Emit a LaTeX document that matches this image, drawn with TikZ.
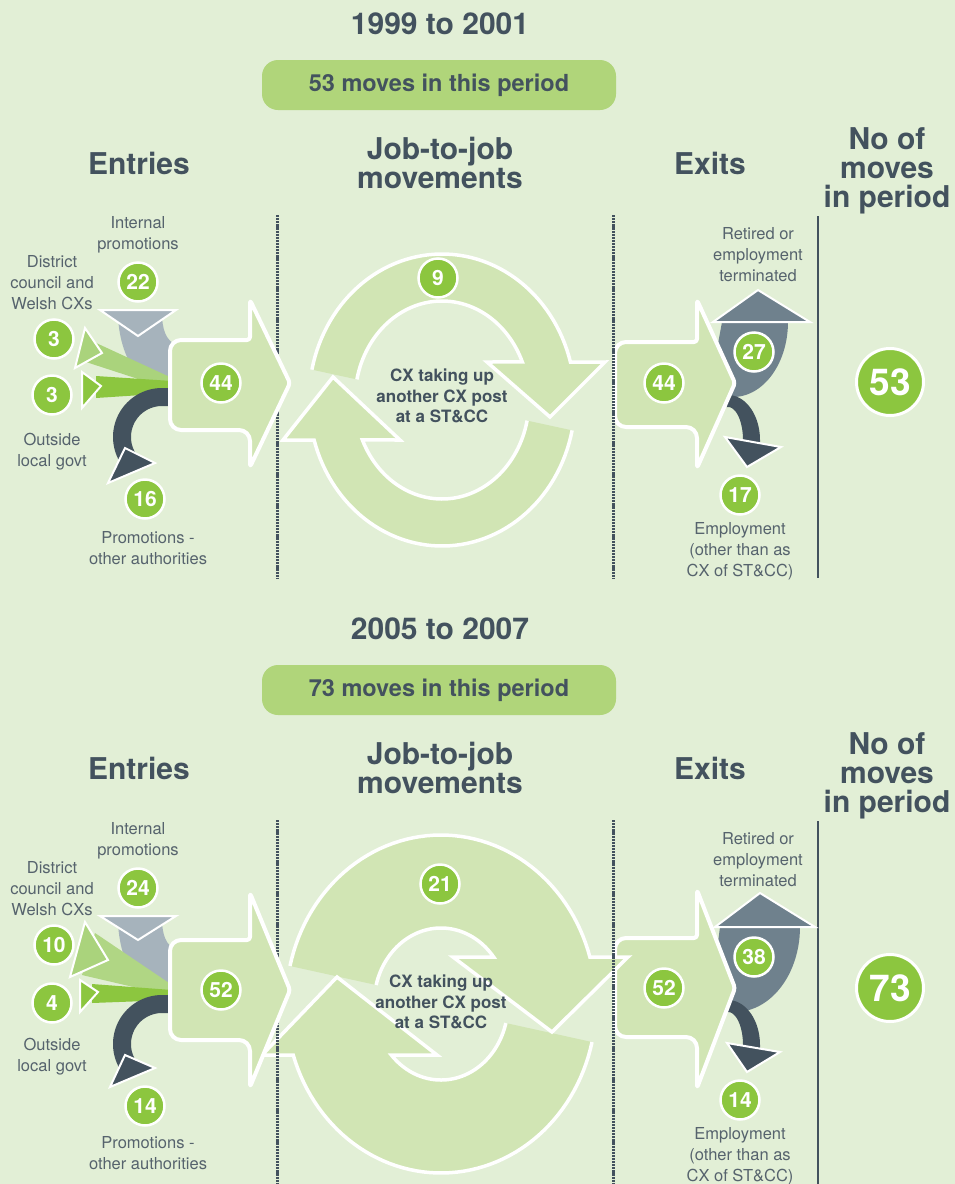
\documentclass[tikz,border=0pt]{standalone}
\usepackage{fontspec}
\setmainfont{TeX Gyre Heros}
\definecolor{bgc}{HTML}{E2EFD6}
\definecolor{lgreen}{HTML}{D1E5B4}
\definecolor{pillgreen}{HTML}{B0D57A}
\definecolor{cgreen}{HTML}{8CC63F}
\definecolor{slate}{HTML}{43525E}
\definecolor{lblgrey}{HTML}{56636D}
\definecolor{greyin}{HTML}{A6B3BC}
\definecolor{greyout}{HTML}{6F818D}
\definecolor{midgreen}{HTML}{AAD37C}
\definecolor{darkgreen}{HTML}{8CC63F}
\newcommand\ringTL{plot[domain=12:164.1,samples=60] ({442+133*cos(\x)},{400+146*sin(\x)}) -- (283,440) -- (333,377) -- (400,440) -- plot[domain=156.2:12,samples=60] ({442+87*cos(\x)},{400+99*sin(\x)})}
\newcommand\ringTU{plot[domain=192:345,samples=60] ({442+133*cos(\x)},{400+146*sin(\x)}) -- (605,362) -- (550,417) -- (487,362) -- plot[domain=337.4:192,samples=60] ({442+87*cos(\x)},{400+99*sin(\x)})}
\newcommand\ringBL{plot[domain=13:162.4,samples=60] ({441+155*cos(\x)},{1004+169*sin(\x)}) -- (262,1055) -- (337,977) -- (437,1055) -- plot[domain=137.8:14.5,samples=60] ({441+67*cos(\x)},{1004+76*sin(\x)})}
\newcommand\ringBU{plot[domain=193:343.9,samples=60] ({441+155*cos(\x)},{1004+169*sin(\x)}) -- (628,957) -- (552,1032) -- (453,957) -- plot[domain=321.8:194.5,samples=60] ({441+67*cos(\x)},{1004+76*sin(\x)})}
\begin{document}
\begin{tikzpicture}[x=1pt,y=-1pt,
 num/.style={circle, fill=cgreen, draw=white, line width=2.5pt, text=white, font=\bfseries\fontsize{21}{21}\selectfont, minimum size=39pt, inner sep=0pt},
 bignum/.style={num, minimum size=67pt, line width=3pt, font=\bfseries\fontsize{37}{37}\selectfont},
 lbl/.style={align=center, text=lblgrey, font=\fontsize{16.5}{21}\selectfont, inner sep=0pt},
 hdr/.style={align=center, text=slate, font=\bfseries\fontsize{30}{29}\selectfont, inner sep=0pt},
 pill/.style={fill=pillgreen, rounded corners=16pt, minimum width=354pt, minimum height=50pt, text=slate, font=\bfseries\fontsize{23.5}{23.5}\selectfont},
 cxt/.style={align=center, text=slate, font=\bfseries\fontsize{17}{20.5}\selectfont, inner sep=0pt},
 bigarrow/.style={fill=lgreen, draw=white, line width=4pt, line join=round},
 ringedge/.style={draw=white, line width=3.5pt, line join=miter},
 tri/.style={draw=white, line width=2pt, line join=miter},
 dotline/.style={draw=slate, line width=3pt, dash pattern=on 2.2pt off 0.9pt},
 solidline/.style={draw=slate, line width=2pt}
]
\fill[bgc] (0,0) rectangle (955,1184);
\useasboundingbox (0,0) rectangle (955,1184);

% ================= TOP PANEL =================
\node[hdr] (t1) at (440,24) {1999 to 2001};
\node[pill] (p1) at (439,85) {53 moves in this period};
\node[hdr, anchor=north] (j1) at (440,137) {Job-to-job\\movements};
\node[hdr, anchor=north] (e1) at (139,152) {Entries};
\node[hdr, anchor=north] (x1) at (710,152) {Exits};
\node[hdr, anchor=north] (n1) at (887,127) {No of\\moves\\in period};
\draw[solidline] (818,216) -- (818,578);

% exits
\fill[greyout] (722,322) -- plot[domain=0:100,samples=30] ({733+55*cos(\x)},{322+75*sin(\x)}) -- (715,360) -- cycle;
\draw[tri, fill=greyout] (713,322) -- (810,322) -- (758,290) -- cycle;
\fill[slate] plot[domain=265:360,samples=30] ({728+32*cos(\x)},{440+45*sin(\x)}) -- (760,444) -- (743,444) -- plot[domain=360:265,samples=30] ({728+15*cos(\x)},{440+33*sin(\x)}) -- cycle;
\draw[tri, fill=slate] (725,437) -- (781,447) -- (747,467) -- cycle;
\draw[bigarrow] (697,342) [rounded corners=11pt] -- (615,342) -- (615,427) -- (697,427) [rounded corners=3pt] -- (697,468) -- (735,383) -- (697,300) -- cycle;

% ring
\fill[lgreen] \ringTL -- cycle;
\fill[lgreen] \ringTU -- cycle;
\draw[ringedge] \ringTL;
\draw[ringedge] \ringTU;
\node[cxt] (c1) at (442,396) {CX taking up\\another CX post\\at a ST\&CC};

\draw[dotline] (277,215) -- (277,578);
\draw[dotline] (613,215) -- (613,578);

% entries
\fill[greyin] (118,312) -- plot[domain=180:90,samples=30] ({170+52*cos(\x)},{312+80*sin(\x)}) -- (176,392) -- (176,345) .. controls (166,340) and (162,330) .. (162,312) -- cycle;
\draw[tri, fill=greyin] (100,310) -- (176,310) -- (138,336) -- cycle;
\fill[midgreen] (94,342) -- (172,378) -- (172,390) -- (86,362) -- cycle;
\draw[tri, fill=midgreen] (85,328) -- (102,353) -- (75,368) -- cycle;
\fill[darkgreen] (96,376) -- (172,381) -- (172,393) -- (96,398) -- cycle;
\draw[tri, fill=darkgreen] (82,372) -- (101,386) -- (82,408) -- cycle;
\fill[slate] (176,388) -- plot[domain=272:148,samples=40] ({162+49*cos(\x)},{437+49*sin(\x)}) -- plot[domain=148:272,samples=40] ({162+31*cos(\x)},{437+31*sin(\x)}) -- (176,406) -- cycle;
\draw[tri, fill=slate] (125,448) -- (155,463) -- (108,483) -- cycle;
\draw[bigarrow] (250,340) [rounded corners=11pt] -- (170,340) -- (170,430) -- (250,430) [rounded corners=3pt] -- (250,467) -- (290,383) -- (250,300) -- cycle;

% circles
\node[num] (a22) at (138,282) {22};
\node[num] (a3a) at (54,339) {3};
\node[num] (a3b) at (52,395) {3};
\node[num] (a16) at (145,499) {16};
\node[num] (a44) at (221,383) {44};
\node[num] (a9) at (438,278) {9};
\node[num] (b44) at (664,383) {44};
\node[num] (b27) at (754,352) {27};
\node[num] (b17) at (740,495) {17};
\node[bignum] (b53) at (890,382) {53};

% labels
\node[lbl] (l1) at (138,235) {Internal\\promotions};
\node[lbl] (l2) at (52,283) {District\\council and\\Welsh CXs};
\node[lbl] (l3) at (52,452) {Outside\\local govt};
\node[lbl] (l4) at (148,548) {Promotions -\\other authorities};
\node[lbl] (l5) at (758,255) {Retired or\\employment\\terminated};
\node[lbl] (l6) at (740,551) {Employment\\(other than as\\CX of ST\&CC)};

% ================= BOTTOM PANEL =================
\node[hdr] (t2) at (440,629) {2005 to 2007};
\node[pill] (p2) at (439,690) {73 moves in this period};
\node[hdr, anchor=north] (j2) at (440,742) {Job-to-job\\movements};
\node[hdr, anchor=north] (e2) at (139,757) {Entries};
\node[hdr, anchor=north] (x2) at (710,757) {Exits};
\node[hdr, anchor=north] (n2) at (887,732) {No of\\moves\\in period};
\draw[solidline] (818,821) -- (818,1184);

% exits
\fill[greyout] (720,927) -- plot[domain=0:100,samples=30] ({735+65*cos(\x)},{927+85*sin(\x)}) -- (715,965) -- cycle;
\draw[tri, fill=greyout] (715,927) -- (815,927) -- (760,893) -- cycle;
\fill[slate] plot[domain=265:360,samples=30] ({728+32*cos(\x)},{1045+45*sin(\x)}) -- (760,1049) -- (743,1049) -- plot[domain=360:265,samples=30] ({728+15*cos(\x)},{1045+33*sin(\x)}) -- cycle;
\draw[tri, fill=slate] (727,1043) -- (780,1052) -- (747,1072) -- cycle;
\draw[bigarrow] (697,938) [rounded corners=11pt] -- (615,938) -- (615,1037) -- (697,1037) [rounded corners=3pt] -- (697,1088) -- (735,988) -- (697,890) -- cycle;

% ring
\fill[lgreen] \ringBL -- cycle;
\fill[lgreen] \ringBU -- cycle;
\draw[ringedge] \ringBL;
\draw[ringedge] \ringBU;
\node[cxt] (c2) at (441,1002) {CX taking up\\another CX post\\at a ST\&CC};

\draw[dotline] (277,820) -- (277,1184);
\draw[dotline] (613,820) -- (613,1184);

% entries
\fill[greyin] (118,918) -- plot[domain=180:90,samples=30] ({170+52*cos(\x)},{918+82*sin(\x)}) -- (176,1000) -- (176,950) .. controls (166,945) and (162,935) .. (162,918) -- cycle;
\draw[tri, fill=greyin] (100,916) -- (176,916) -- (138,940) -- cycle;
\fill[midgreen!85!lgreen] (95,933) -- (172,985) -- (172,996) -- (82,975) -- cycle;
\draw[tri, fill=midgreen] (85,922) -- (108,960) -- (70,977) -- cycle;
\fill[darkgreen] (92,984) -- (172,990) -- (172,1000) -- (92,1003) -- cycle;
\draw[tri, fill=darkgreen] (80,980) -- (98,992) -- (80,1012) -- cycle;
\fill[slate] (176,995) -- plot[domain=272:148,samples=40] ({162+49*cos(\x)},{1044+49*sin(\x)}) -- plot[domain=148:272,samples=40] ({162+31*cos(\x)},{1044+31*sin(\x)}) -- (176,1013) -- cycle;
\draw[tri, fill=slate] (125,1055) -- (155,1068) -- (110,1087) -- cycle;
\draw[bigarrow] (250,940) [rounded corners=11pt] -- (170,940) -- (170,1040) -- (250,1040) [rounded corners=3pt] -- (250,1087) -- (290,990) -- (250,893) -- cycle;

% circles
\node[num] (d24) at (138,888) {24};
\node[num] (d10) at (54,945) {10};
\node[num] (d4) at (52,1003) {4};
\node[num] (d14) at (145,1106) {14};
\node[num] (d52) at (221,990) {52};
\node[num] (d21) at (440,884) {21};
\node[num] (f52) at (664,988) {52};
\node[num] (f38) at (754,957) {38};
\node[num] (f14) at (740,1100) {14};
\node[bignum] (f73) at (890,988) {73};

% labels
\node[lbl] (m1) at (138,841) {Internal\\promotions};
\node[lbl] (m2) at (52,889) {District\\council and\\Welsh CXs};
\node[lbl] (m3) at (52,1057) {Outside\\local govt};
\node[lbl] (m4) at (148,1153) {Promotions -\\other authorities};
\node[lbl] (m5) at (758,860) {Retired or\\employment\\terminated};
\node[lbl] (m6) at (740,1156) {Employment\\(other than as\\CX of ST\&CC)};
\end{tikzpicture}
\end{document}
